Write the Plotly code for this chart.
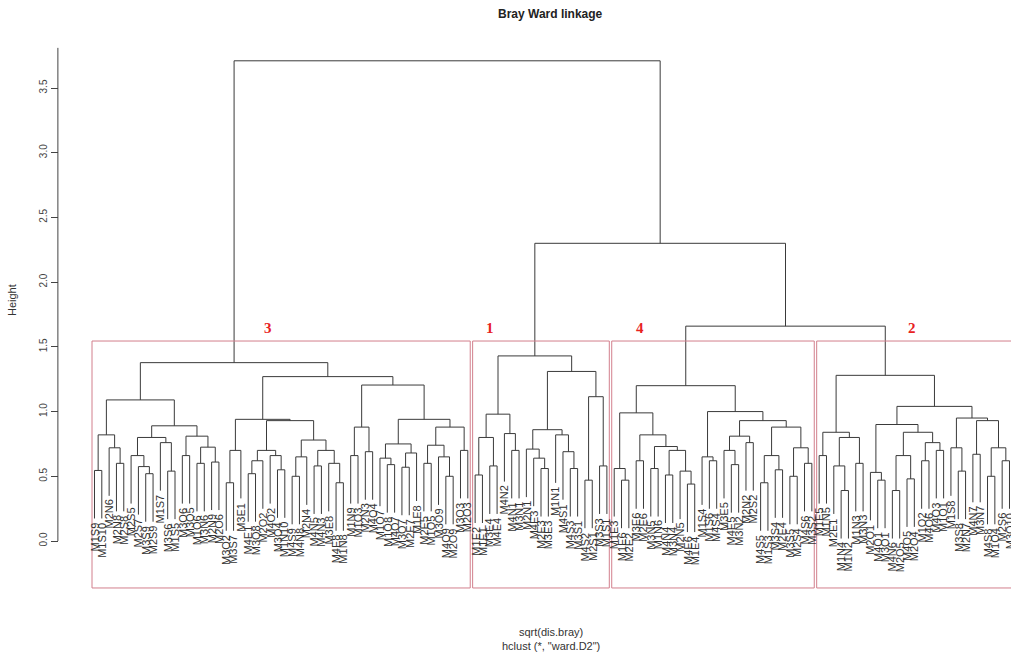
import plotly.graph_objects as go

# ---- leaf labels, left to right, one list per cluster ----
labels_c3 = ["M1S9", "M1S10", "M2N6", "M2N8", "M2S8", "M2S5", "M2S7", "M3S9", "M2S9", "M1S7",
             "M3S6", "M1S5", "M3O6", "M3O5", "M1O6", "M3N6", "M2N9", "M2O6", "M3O2", "M3S7",
             "M3E1", "M4E1", "M3O8", "M2O2", "M4O2", "M3O4", "M1N10", "M4S9", "M4N8", "M2N4",
             "M4N5", "M4N3", "M3E8", "M4E8", "M1N8", "M1N9", "M1O3", "M2N3", "M4O4", "M1O7",
             "M1O8", "M4O7", "M3O7", "M2E7", "M1E8", "M2E5", "M1O5", "M3O9", "M4O9", "M2O9",
             "M3O3", "M2O3"]
labels_c1 = ["M1E2", "M1E1", "M3E4", "M4E4", "M4N2", "M4N1", "M3N1", "M2N1", "M4E3", "M2E3",
             "M3E3", "M1N1", "M4S1", "M4S3", "M3S1", "M4S2", "M2S1", "M3S3", "M1S1"]
labels_c4 = ["M1E3", "M1E6", "M2E2", "M3E6", "M2E6", "M3N5", "M1N6", "M4N4", "M3N4", "M2N5",
             "M4E6", "M1E4", "M1S4", "M1S6", "M4S4", "M3E5", "M4E5", "M3N2", "M2N2", "M2S2",
             "M4S5", "M1S3", "M3S4", "M2E4", "M3S5", "M2S4", "M4S6", "M3S2"]
labels_c2 = ["M1E5", "M1N5", "M2E1", "M1N4", "M1N2", "M1N3", "M3N3", "M2O1", "M4O1", "M3O1",
             "M4N6", "M2O5", "M4O5", "M2O4", "M1O2", "M4O6", "M4O3", "M1O1", "M1S8", "M3S8",
             "M2N7", "M4N7", "M3N7", "M4S8", "M1O4", "M2S6", "M3O10"]
leaf_labels = labels_c3 + labels_c1 + labels_c4 + labels_c2

# ---- merge trees: [height, left, right]; integers are leaf positions (1-based) ----
cluster3_tree = [1.378,
    [1.09,
        [0.82, [0.545, 1, 2], [0.72, 3, [0.60, 4, 5]]],
        [0.89,
            [0.80, [0.66, 6, [0.575, 7, [0.52, 8, 9]]], [0.76, 10, [0.54, 11, 12]]],
            [0.81, [0.66, 13, 14], [0.725, [0.60, 15, 16], [0.61, 17, 18]]]]],
    [1.27,
        [0.94,
            [0.70, [0.45, 19, 20], 21],
            [0.93,
                [0.70, [0.62, [0.52, 22, 23], 24], [0.66, 25, [0.55, 26, 27]]],
                [0.78, [0.65, [0.50, 28, 29], 30],
                       [0.70, [0.58, 31, 32], [0.60, 33, [0.45, 34, 35]]]]]],
        [1.205,
            [0.88, [0.66, 36, 37], [0.69, 38, 39]],
            [0.94,
                [0.75, [0.64, 40, [0.59, 41, 42]], [0.68, [0.57, 43, 44], 45]],
                [0.88, [0.74, [0.60, 46, 47], [0.65, 48, [0.50, 49, 50]]], [0.70, 51, 52]]]]]]

cluster1_tree = [1.43,
    [0.98, [0.80, [0.51, 53, 54], [0.58, 55, 56]], [0.83, 57, [0.70, 58, 59]]],
    [1.31,
        [0.86, [0.71, 60, [0.64, 61, [0.56, 62, 63]]], [0.82, 64, [0.69, 65, [0.56, 66, 67]]]],
        [1.115, [0.47, 68, 69], [0.58, 70, 71]]]]

cluster4_tree = [1.20,
    [0.99, [0.56, 72, [0.47, 73, 74]],
           [0.82, [0.62, 75, 76],
                  [0.73, [0.56, 77, 78], [0.70, [0.51, 79, 80], [0.54, 81, [0.44, 82, 83]]]]]],
    [1.00, [0.65, 84, [0.62, 85, 86]],
           [0.93, [0.81, [0.70, 87, [0.59, 88, 89]], [0.76, 90, 91]],
                  [0.88, [0.66, [0.45, 92, 93], [0.55, 94, 95]],
                         [0.72, [0.50, 96, 97], [0.60, 98, 99]]]]]]

cluster2_tree = [1.28,
    [0.84, [0.66, 100, 101], [0.80, [0.58, 102, [0.39, 103, 104]], [0.60, 105, 106]]],
    [1.04,
        [0.90, [0.53, 107, [0.47, 108, 109]],
               [0.84, [0.66, [0.39, 110, 111], [0.48, 112, 113]],
                      [0.76, [0.62, 114, 115], [0.70, 116, 117]]]],
        [0.95, [0.72, 118, [0.54, 119, 120]],
               [0.93, [0.67, 121, 122], [0.72, [0.50, 123, 124], [0.62, 125, 126]]]]]]

# heights of the last three merges (clusters 4+2, then 1, then 3)
top_heights = [1.66, 2.30, 3.71]
cluster_names = ["3", "1", "4", "2"]

cluster_trees = [cluster3_tree, cluster1_tree, cluster4_tree, cluster2_tree]
full_tree = [top_heights[2], cluster3_tree,
             [top_heights[1], cluster1_tree, [top_heights[0], cluster4_tree, cluster2_tree]]]

# ---- geometry helpers ----
hang = 0.1 * top_heights[2]
line_x, line_y = [], []
leaf_end = {}


def walk(node):
    if isinstance(node, int):
        return float(node), None
    h, a, b = node
    xa, ha = walk(a)
    xb, hb = walk(b)
    if ha is None:
        ha = h - hang
        leaf_end[a] = ha
    if hb is None:
        hb = h - hang
        leaf_end[b] = hb
    line_x.extend([xa, xa, xb, xb, None])
    line_y.extend([ha, h, h, hb, None])
    return (xa + xb) / 2.0, h


walk(full_tree)


def leaves_of(node):
    if isinstance(node, int):
        return [node]
    return leaves_of(node[1]) + leaves_of(node[2])


def all_heights(node):
    if isinstance(node, int):
        return []
    return [node[0]] + all_heights(node[1]) + all_heights(node[2])


fig = go.Figure()
fig.add_trace(go.Scatter(x=line_x, y=line_y, mode="lines",
                         line=dict(color="#3a3a3a", width=1), hoverinfo="skip",
                         showlegend=False))

# plot scale: 7.32 px per leaf, 129.43 px per height unit
W, H = 1011, 655
px_leaf = 7.32
x_lo = 0.66 - 92 / px_leaf
x_hi = x_lo + W / px_leaf
px_h = 129.43
y_hi = 541 / px_h
y_lo = -(H - 541) / px_h

annotations = []
for i, lab in enumerate(leaf_labels, start=1):
    annotations.append(dict(x=i, y=leaf_end[i], text=lab, textangle=-90,
                            xanchor="center", yanchor="top", yshift=-2,
                            showarrow=False,
                            font=dict(family="Liberation Sans, Arial", size=11, color="#333333")))

# cluster rectangles (k = 4)
heights_sorted = sorted(all_heights(full_tree), reverse=True)
cut = (heights_sorted[2] + heights_sorted[3]) / 2.0
rect_bottom = -0.363
shapes = []
name_x = [24.7, 55.0, 75.5, 112.7]
for tree, name, nx in zip(cluster_trees, cluster_names, name_x):
    lv = leaves_of(tree)
    shapes.append(dict(type="rect", xref="x", yref="y",
                       x0=min(lv) - 0.34, x1=max(lv) + 0.33, y0=rect_bottom, y1=cut,
                       line=dict(color="#d27f8c", width=1), fillcolor="rgba(0,0,0,0)"))
    annotations.append(dict(x=nx, y=cut + 0.1, text="<b>%s</b>" % name, showarrow=False,
                            xanchor="center", yanchor="middle",
                            font=dict(family="Liberation Serif, Times New Roman", size=15,
                                      color="#e8221f")))

# y axis line
shapes.append(dict(type="line", xref="x", yref="y", x0=-4, x1=-4, y0=0, y1=3.81,
                   line=dict(color="#444444", width=1)))

annotations += [
    dict(x=0.545, y=1 - 14 / H, xref="paper", yref="paper", text="<b>Bray Ward linkage</b>",
         showarrow=False, xanchor="center", yanchor="middle",
         font=dict(family="Liberation Sans, Arial", size=12, color="#222222")),
    dict(x=0.545, y=1 - 632 / H, xref="paper", yref="paper", text="sqrt(dis.bray)",
         showarrow=False, xanchor="center", yanchor="middle",
         font=dict(family="Liberation Sans, Arial", size=11, color="#333333")),
    dict(x=0.545, y=1 - 646 / H, xref="paper", yref="paper", text='hclust (*, "ward.D2")',
         showarrow=False, xanchor="center", yanchor="middle",
         font=dict(family="Liberation Sans, Arial", size=11, color="#333333")),
    dict(x=12 / W, y=1 - 300 / H, xref="paper", yref="paper", text="Height", textangle=-90,
         showarrow=False, xanchor="center", yanchor="middle",
         font=dict(family="Liberation Sans, Arial", size=11, color="#333333")),
]

tick_vals = [0.0, 0.5, 1.0, 1.5, 2.0, 2.5, 3.0, 3.5]
fig.update_layout(
    width=W, height=H,
    margin=dict(l=0, r=0, t=0, b=0),
    paper_bgcolor="white", plot_bgcolor="white",
    xaxis=dict(range=[x_lo, x_hi], visible=False, domain=[0, 1]),
    yaxis=dict(range=[y_lo, y_hi], tickvals=tick_vals,
               ticktext=["%.1f" % v for v in tick_vals], tickangle=-90,
               ticks="outside", ticklen=7, tickcolor="#444444",
               showgrid=False, zeroline=False, showline=False,
               anchor="free", position=58 / W,
               tickfont=dict(family="Liberation Sans, Arial", size=10, color="#444444")),
    shapes=shapes,
    annotations=annotations,
    showlegend=False,
)

fig.write_html("out.html")
